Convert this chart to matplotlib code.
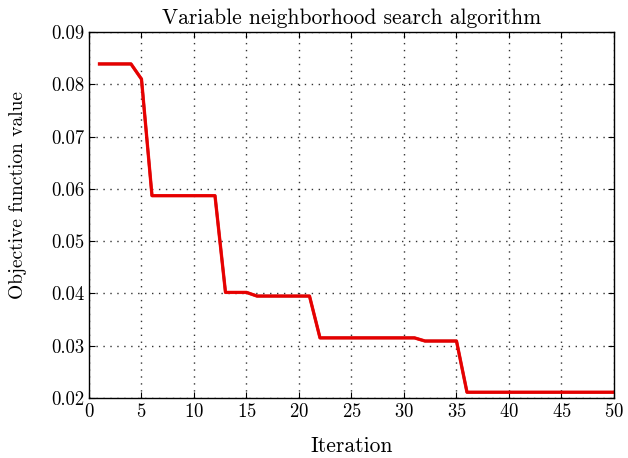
import numpy as np
import matplotlib
matplotlib.use("Agg")
import matplotlib.pyplot as plt

plt.rcParams['font.family'] = 'serif'
plt.rcParams['font.serif'] = ['cmr10']
plt.rcParams['mathtext.fontset'] = 'cm'
plt.rcParams['axes.formatter.use_mathtext'] = True

# objective value per iteration
iterations = list(range(1, 51))
objective = ([0.0839] * 4 + [0.0810] + [0.0587] * 7 + [0.0402] * 3 + [0.0395] * 6
             + [0.0315] * 10 + [0.0309] * 4 + [0.0211] * 15)

xticks = [0, 5, 10, 15, 20, 25, 30, 35, 40, 45, 50]
yticks = [0.02, 0.03, 0.04, 0.05, 0.06, 0.07, 0.08, 0.09]

fig = plt.figure(figsize=(6.28, 4.58), dpi=100)
ax = fig.add_axes([0.1417, 0.131, 0.836, 0.799])

ax.plot(iterations, objective, color='#5a0000', lw=2.0)
ax.plot(iterations, objective, color='red', lw=2.4, alpha=0.85)

ax.set_xlim(0, 50)
ax.set_ylim(0.02, 0.09)
ax.set_xticks(xticks)
ax.set_yticks(yticks)
ax.set_yticklabels([f"{v:.2f}" for v in yticks])
ax.tick_params(direction='in', top=True, right=True, labelsize=13.5, length=4)
ax.grid(True, linestyle=(0, (1, 4)), color='#333333', linewidth=1.0)
for s in ax.spines.values():
    s.set_linewidth(1.0)

ax.set_title('Variable neighborhood search algorithm', fontsize=15.5, pad=6)
ax.set_xlabel('Iteration', fontsize=15.5, labelpad=11)
ax.set_ylabel('Objective function value', fontsize=14)
ax.yaxis.set_label_coords(-0.118, 0.555)

fig.savefig('out.png', dpi=100)
